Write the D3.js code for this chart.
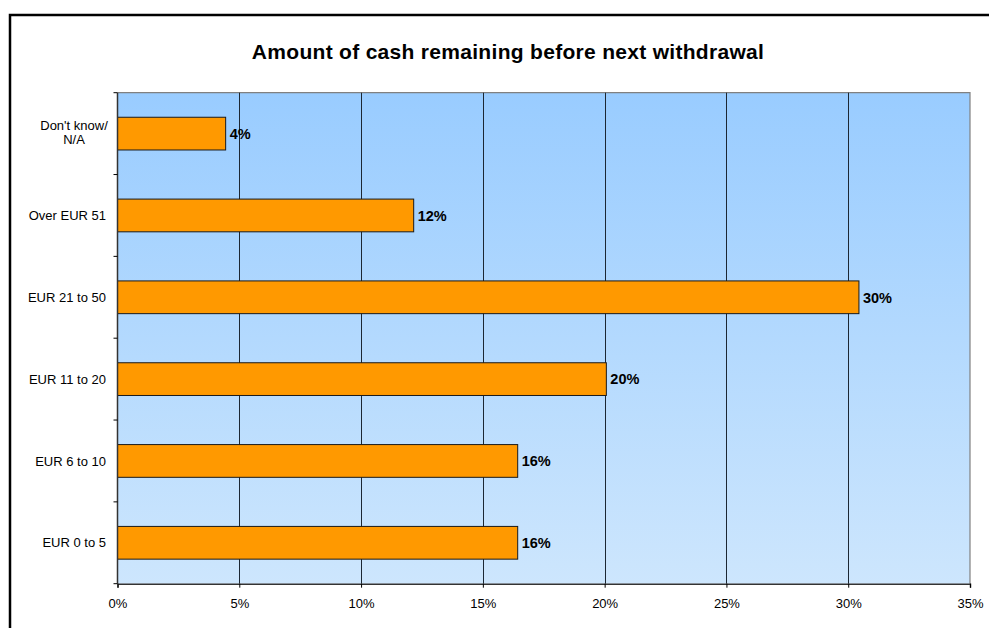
<!DOCTYPE html>
<html>
<head>
<meta charset="utf-8">
<script src="https://cdn.jsdelivr.net/npm/d3@7/dist/d3.min.js"></script>
<style>
  html, body { margin: 0; padding: 0; background: #fff; }
  svg { display: block; font-family: Arial, "Liberation Sans", sans-serif; }
</style>
</head>
<body>
<svg id="chart" width="989" height="628"></svg>
<script>
// Survey answers, top to bottom
const categories = ["Don't know/\nN/A", "Over EUR 51", "EUR 21 to 50", "EUR 11 to 20", "EUR 6 to 10", "EUR 0 to 5"];
const shares = [0.0444, 0.1216, 0.3044, 0.2007, 0.1643, 0.1643];
const xTicks = [0, 0.05, 0.10, 0.15, 0.20, 0.25, 0.30, 0.35];
const title = "Amount of cash remaining before next withdrawal";

const svg = d3.select("#chart");
const plot = { left: 117.5, right: 970, top: 92.7, bottom: 583.7 };

// outer frame
svg.append("rect")
  .attr("x", 10).attr("y", 15)
  .attr("width", 990).attr("height", 640)
  .attr("fill", "#fff").attr("stroke", "#000").attr("stroke-width", 2.5);

const x = d3.scaleLinear().domain([0, 0.35]).range([plot.left, plot.right]);
const y = d3.scaleBand().domain(categories).range([plot.top, plot.bottom]).paddingInner(0.6).paddingOuter(0.3);
const yBand = d3.scaleBand().domain(categories).range([plot.top, plot.bottom]);

// plot background gradient
const defs = svg.append("defs");
const grad = defs.append("linearGradient").attr("id", "bg").attr("x1", 0).attr("y1", 0).attr("x2", 0).attr("y2", 1);
grad.append("stop").attr("offset", "0%").attr("stop-color", "#99ccff");
grad.append("stop").attr("offset", "100%").attr("stop-color", "#cde6fd");

svg.append("rect")
  .attr("x", plot.left).attr("y", plot.top)
  .attr("width", plot.right - plot.left).attr("height", plot.bottom - plot.top)
  .attr("fill", "url(#bg)");

// plot border (top and right)
svg.append("path")
  .attr("d", `M${plot.left},${plot.top}H${plot.right}V${plot.bottom}`)
  .attr("fill", "none").attr("stroke", "#808080").attr("stroke-width", 1.2);

// vertical gridlines
svg.append("g")
  .selectAll("line")
  .data(xTicks.slice(1, -1))
  .join("line")
  .attr("x1", d => Math.round(x(d)) + 0.5).attr("x2", d => Math.round(x(d)) + 0.5)
  .attr("y1", plot.top).attr("y2", plot.bottom)
  .attr("stroke", "#1c2733").attr("stroke-width", 1);

// bars
svg.append("g")
  .selectAll("rect")
  .data(categories)
  .join("rect")
  .attr("x", x(0))
  .attr("y", d => y(d))
  .attr("width", (d, i) => x(shares[i]) - x(0))
  .attr("height", y.bandwidth())
  .attr("fill", "#ff9900")
  .attr("stroke", "#1a1a1a").attr("stroke-width", 1);

// value labels
const pct = d3.format(".0%");
svg.append("g")
  .selectAll("text")
  .data(categories)
  .join("text")
  .attr("x", (d, i) => x(shares[i]) + 4)
  .attr("y", d => y(d) + y.bandwidth() / 2)
  .attr("dy", "0.36em")
  .attr("font-size", 14.5).attr("font-weight", "bold").attr("fill", "#000")
  .text((d, i) => pct(shares[i]));

// x axis
const xAxis = svg.append("g")
  .attr("transform", `translate(0,${plot.bottom})`)
  .call(d3.axisBottom(x).tickValues(xTicks).tickFormat(d3.format(".0%")).tickSize(4).tickPadding(11));
xAxis.select(".domain").attr("stroke", "#333").attr("stroke-width", 1.5);
xAxis.selectAll(".tick line").attr("stroke", "#000");
xAxis.selectAll("text").attr("font-size", 13).attr("fill", "#000").attr("font-family", "Arial, 'Liberation Sans', sans-serif");

// y axis: ticks at category boundaries
const yAxisG = svg.append("g");
yAxisG.append("line")
  .attr("x1", plot.left).attr("x2", plot.left)
  .attr("y1", plot.top).attr("y2", plot.bottom)
  .attr("stroke", "#333").attr("stroke-width", 1.5);
yAxisG.selectAll("line.tk")
  .data(categories.concat(["end"]))
  .join("line").attr("class", "tk")
  .attr("x1", plot.left - 4).attr("x2", plot.left)
  .attr("y1", (d, i) => i < categories.length ? yBand(d) : plot.bottom)
  .attr("y2", (d, i) => i < categories.length ? yBand(d) : plot.bottom)
  .attr("stroke", "#000");

// category labels
const catText = svg.append("g")
  .selectAll("text")
  .data(categories)
  .join("text")
  .attr("text-anchor", "middle")
  .attr("font-size", 13).attr("fill", "#000")
  .attr("transform", d => `translate(${d.includes("\n") ? 74 : 66},${yBand(d) + yBand.bandwidth() / 2})`);
catText.each(function(d) {
  const lines = d.split("\n");
  const t = d3.select(this);
  lines.forEach((ln, i) => {
    t.append("tspan")
      .attr("x", 0)
      .attr("y", (i - (lines.length - 1) / 2) * 14 - 1)
      .attr("dy", "0.35em")
      .text(ln);
  });
});
// right-align single-line labels against the axis
catText.filter(d => !d.includes("\n"))
  .attr("text-anchor", "end")
  .attr("transform", d => `translate(106,${yBand(d) + yBand.bandwidth() / 2 + 1})`);

// title
svg.append("text")
  .attr("x", 508).attr("y", 59)
  .attr("text-anchor", "middle")
  .attr("font-size", 21).attr("font-weight", "bold").attr("fill", "#000")
  .attr("letter-spacing", 0.3)
  .text(title);
</script>
</body>
</html>
